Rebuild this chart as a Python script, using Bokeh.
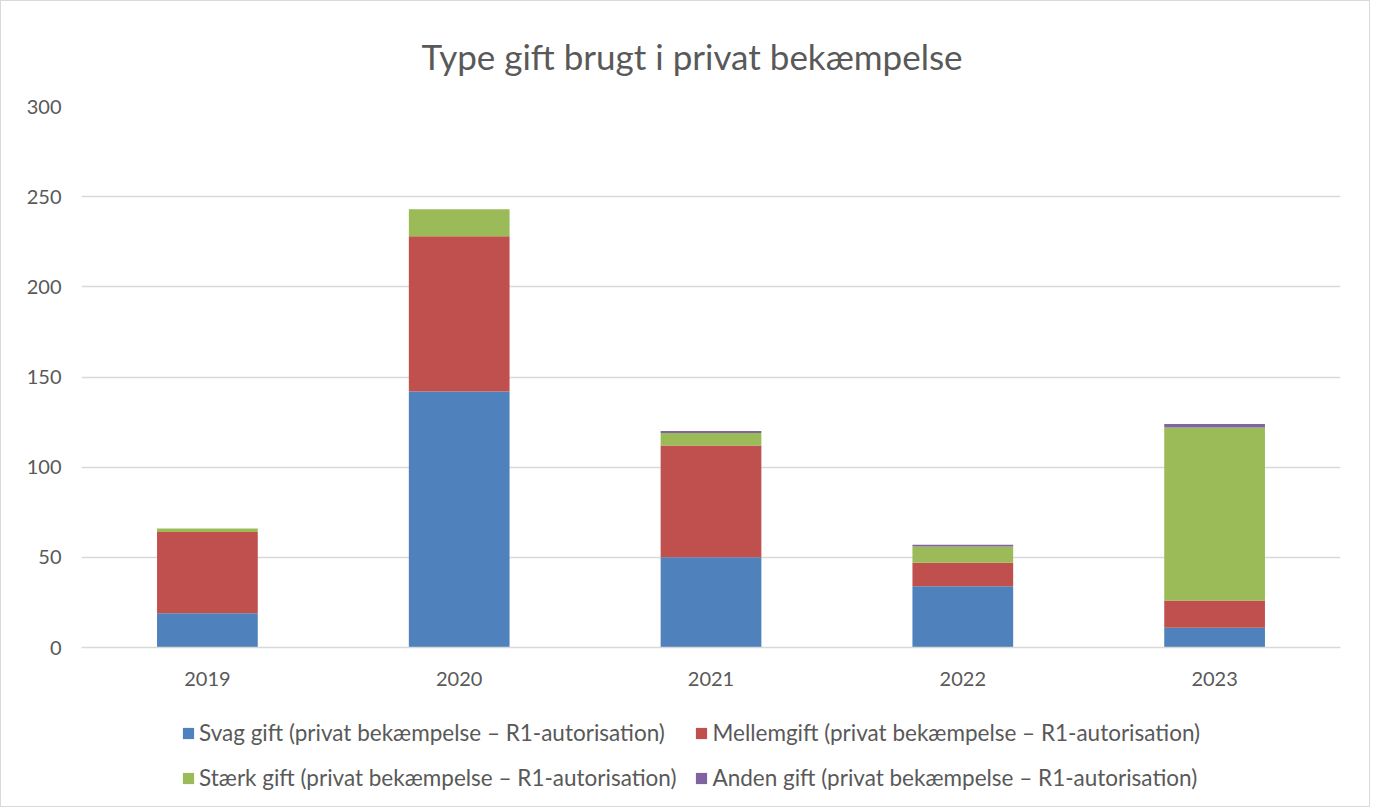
from bokeh.plotting import figure
from bokeh.models import Range1d, FixedTicker, Legend, LegendItem, ColumnDataSource
from bokeh.layouts import column
from bokeh.embed import file_html
from bokeh.resources import INLINE

years = ["2019", "2020", "2021", "2022", "2023"]
svag = [19, 142, 50, 34, 11]
mellem = [45, 86, 62, 13, 15]
staerk = [2, 15, 7, 9, 96]
anden = [0, 0, 1, 1, 2]

series = ["svag", "mellem", "staerk", "anden"]
labels = [
    "Svag gift (privat bekæmpelse – R1-autorisation)",
    "Mellemgift (privat bekæmpelse – R1-autorisation)",
    "Stærk gift (privat bekæmpelse – R1-autorisation)",
    "Anden gift (privat bekæmpelse – R1-autorisation)",
]
colors = ["#4F81BD", "#C0504D", "#9BBB59", "#8064A2"]
yticks = [0, 50, 100, 150, 200, 250, 300]

src = ColumnDataSource(dict(years=years, svag=svag, mellem=mellem, staerk=staerk, anden=anden))

FONT = "Lato"
TXT = "#595959"
W = 1368

p = figure(x_range=years, y_range=Range1d(0, 300), width=W, height=710,
           output_backend="svg", toolbar_location=None,
           title="Type gift brugt i privat bekæmpelse")
p.min_border_left = 80
p.min_border_right = W - 1339
p.min_border_top = 105
p.min_border_bottom = 64

renderers = p.vbar_stack(series, x="years", width=0.4, source=src,
                         color=colors, line_color=None)

p.title.align = "left"
p.title.offset = 340
p.title.text_font = FONT
p.title.text_font_size = "35px"
p.title.text_font_style = "normal"
p.title.text_color = TXT
p.title.standoff = 60

p.outline_line_color = None
p.background_fill_color = "white"
p.border_fill_color = "white"

p.xgrid.grid_line_color = None
p.ygrid.grid_line_color = "#D9D9D9"
p.ygrid.grid_line_width = 1.5

p.yaxis.ticker = FixedTicker(ticks=yticks)
p.yaxis.axis_line_color = None
p.yaxis.major_tick_line_color = None
p.yaxis.minor_tick_line_color = None
p.yaxis.major_label_text_font = FONT
p.yaxis.major_label_text_font_size = "20px"
p.yaxis.major_label_text_color = TXT
p.yaxis.major_label_standoff = 14

p.xaxis.axis_line_color = "#D9D9D9"
p.xaxis.axis_line_width = 1.5
p.xaxis.major_tick_line_color = None
p.xaxis.minor_tick_line_color = None
p.xaxis.major_label_text_font = FONT
p.xaxis.major_label_text_font_size = "20px"
p.xaxis.major_label_text_color = TXT
p.xaxis.major_label_standoff = 18

# Legend in its own strip below the chart; its swatch renderers hold zero-height bars
p2 = figure(x_range=years, y_range=Range1d(1, 2), width=W, height=95,
            output_backend="svg", toolbar_location=None,
            x_axis_type=None, y_axis_type=None)
p2.min_border_left = 0
p2.min_border_right = 0
p2.min_border_top = 0
p2.min_border_bottom = 0
p2.outline_line_color = None
p2.grid.grid_line_color = None
p2.background_fill_color = "white"
p2.border_fill_color = "white"

legend_src = ColumnDataSource(dict(years=years[:1], svag=[0], mellem=[0], staerk=[0], anden=[0]))
leg_renderers = p2.vbar_stack(series, x="years", width=0.4, source=legend_src,
                              color=colors, line_color=None)

items = [LegendItem(label=lab, renderers=[r]) for lab, r in zip(labels, leg_renderers)]
legend = Legend(items=items, orientation="horizontal", ncols=2,
                location=(100, 15))
legend.label_text_font = FONT
legend.label_text_font_size = "22.5px"
legend.label_text_color = TXT
legend.glyph_width = 14
legend.glyph_height = 14
legend.label_standoff = 4
legend.spacing = 18
legend.padding = 0
legend.margin = 0
legend.border_line_color = None
legend.background_fill_alpha = 0
p2.add_layout(legend, "center")

layout = column(p, p2, spacing=0)
layout.styles = {"border": "1px solid #D9D9D9"}

open("out.html", "w").write(file_html(layout, INLINE))
